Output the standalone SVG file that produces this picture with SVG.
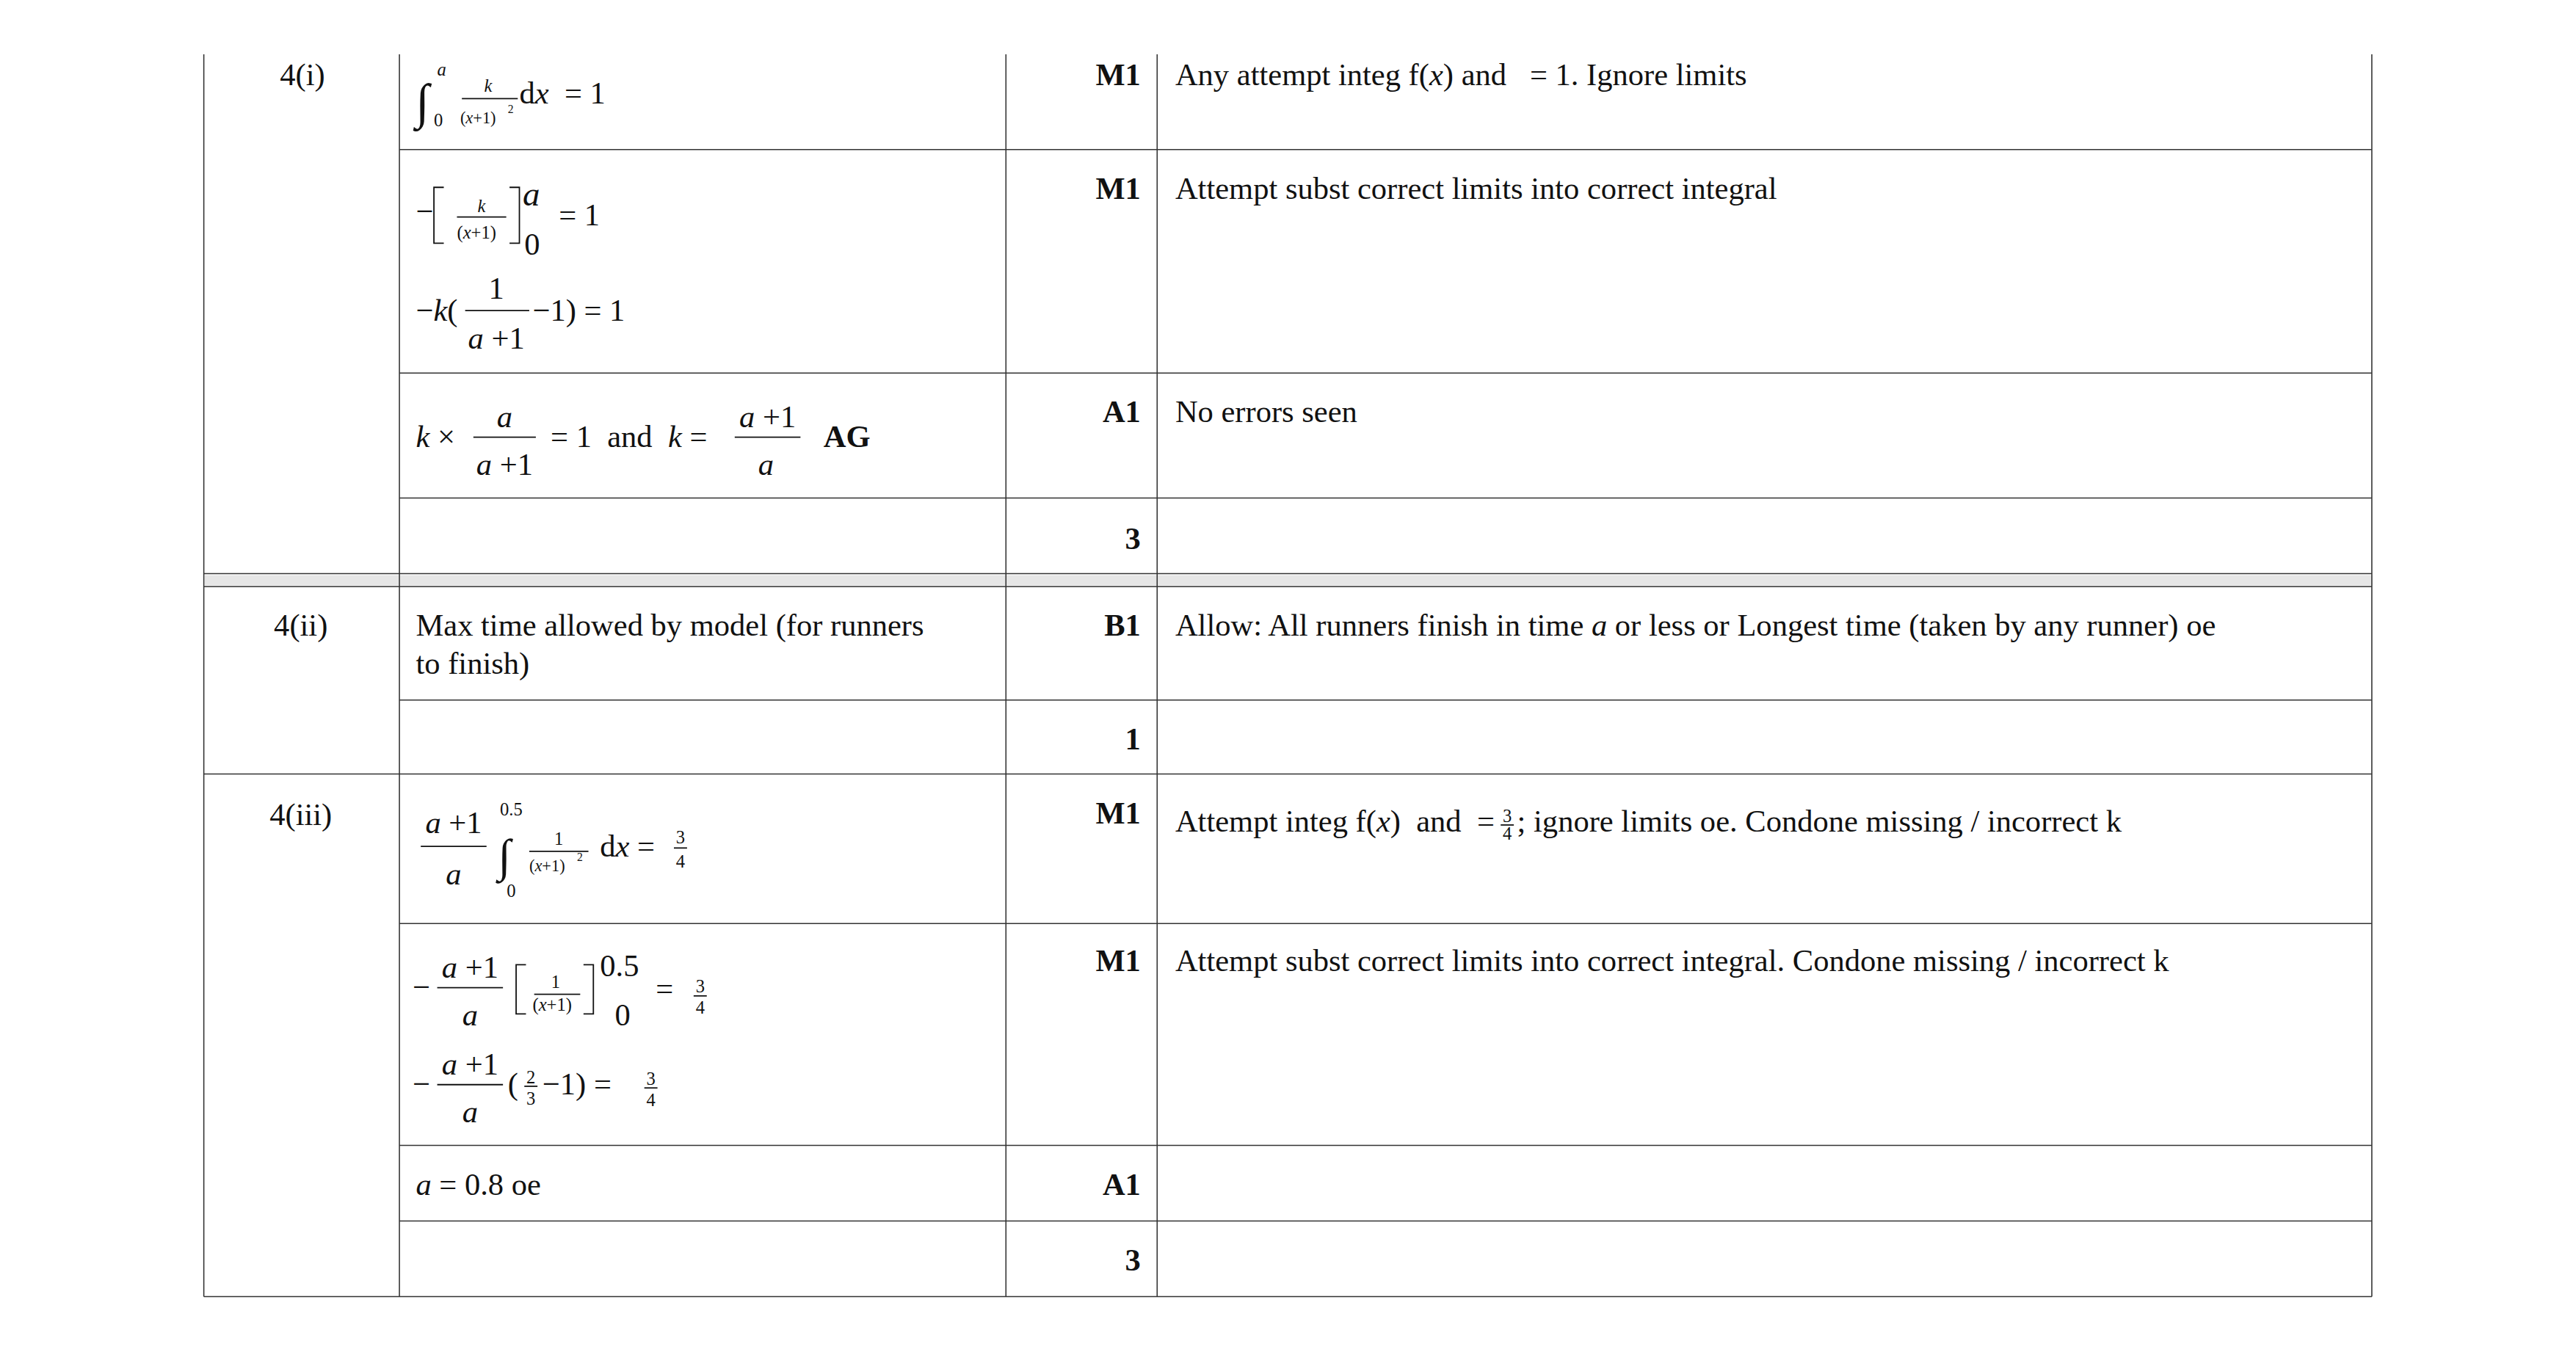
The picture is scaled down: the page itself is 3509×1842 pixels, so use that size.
<svg xmlns="http://www.w3.org/2000/svg" width="3509" height="1842" viewBox="0 0 3509 1842">
<style>
text{font-family:"Liberation Serif","Times New Roman",serif;font-size:19px;fill:#111;white-space:pre}
.b{font-weight:bold}
.i{font-style:italic}
.r{text-anchor:end}
.c{text-anchor:middle}
.s{font-size:11px}
.xs{font-size:7px}
.g line,.g path{stroke:#333;stroke-width:0.7;fill:none}
.f{stroke:#111;stroke-width:0.8}
</style>
<rect width="3509" height="1842" fill="#fff"/>
<g transform="scale(2.239)">
<g id="grid" class="g">
<rect x="124.5" y="350" width="1319" height="6.5" fill="#e6e6e6" stroke="none"/>
<line x1="124" y1="33" x2="124" y2="789"/>
<line x1="243" y1="33" x2="243" y2="789"/>
<line x1="612" y1="33" x2="612" y2="789"/>
<line x1="704" y1="33" x2="704" y2="789"/>
<line x1="1443" y1="33" x2="1443" y2="789"/>
<line x1="243" y1="91" x2="1443" y2="91"/>
<line x1="243" y1="227" x2="1443" y2="227"/>
<line x1="243" y1="303" x2="1443" y2="303"/>
<line x1="124" y1="349" x2="1443" y2="349"/>
<line x1="124" y1="357" x2="1443" y2="357"/>
<line x1="243" y1="426" x2="1443" y2="426"/>
<line x1="124" y1="471" x2="1443" y2="471"/>
<line x1="243" y1="562" x2="1443" y2="562"/>
<line x1="243" y1="697" x2="1443" y2="697"/>
<line x1="243" y1="743" x2="1443" y2="743"/>
<line x1="124" y1="789" x2="1443" y2="789"/>
</g>
<g id="q4i">
<text x="184" y="52" class="c">4(i)</text>
<text x="694" y="52" class="b r">M1</text>
<text x="715" y="52">Any attempt integ f(<tspan class="i">x</tspan>) and   = 1. Ignore limits</text>
<text x="253" y="72" style="font-size:30px">∫</text>
<text x="266" y="46" class="s i">a</text>
<text x="264" y="77" class="s">0</text>
<text x="297" y="56" class="s i c">k</text>
<line x1="281" y1="60" x2="315" y2="60" class="f"/>
<text x="280" y="75" style="font-size:10px">(<tspan class="i">x</tspan>+1)</text>
<text x="309" y="69" class="xs">2</text>
<text x="316" y="63">d<tspan class="i">x</tspan>  = 1</text>

<text x="694" y="121" class="b r">M1</text>
<text x="715" y="121">Attempt subst correct limits into correct integral</text>
<text x="253" y="135">−</text>
<path d="M270 114 H264 V148 H270 M310 114 H316 V148 H310" class="f" fill="none"/>
<text x="293" y="129" class="s i c">k</text>
<line x1="278" y1="132" x2="308" y2="132" class="f"/>
<text x="278" y="145" class="s">(<tspan class="i">x</tspan>+1)</text>
<text x="318" y="125" class="i" style="font-size:21px">a</text>
<text x="319" y="155">0</text>
<text x="340" y="137">= 1</text>
<text x="253" y="195">−<tspan class="i">k</tspan>(</text>
<text x="302" y="182" class="c">1</text>
<line x1="283" y1="189" x2="322" y2="189" class="f"/>
<text x="302" y="212" class="c"><tspan class="i">a</tspan> +1</text>
<text x="324" y="195">−1) = 1</text>

<text x="694" y="257" class="b r">A1</text>
<text x="715" y="257">No errors seen</text>
<text x="253" y="272"><tspan class="i">k</tspan> ×</text>
<text x="307" y="260" class="i c">a</text>
<line x1="288" y1="266" x2="326" y2="266" class="f"/>
<text x="307" y="289" class="c"><tspan class="i">a</tspan> +1</text>
<text x="335" y="272">= 1  and  <tspan class="i">k</tspan> =</text>
<text x="467" y="260" class="c"><tspan class="i">a</tspan> +1</text>
<line x1="447" y1="266" x2="487" y2="266" class="f"/>
<text x="466" y="289" class="i c">a</text>
<text x="501" y="272" class="b">AG</text>

<text x="694" y="334" class="b r">3</text>
</g>
<g id="q4ii">
<text x="183" y="387" class="c">4(ii)</text>
<text x="694" y="387" class="b r">B1</text>
<text x="253" y="387">Max time allowed by model (for runners</text>
<text x="253" y="410">to finish)</text>
<text x="715" y="387">Allow: All runners finish in time <tspan class="i">a</tspan> or less or Longest time (taken by any runner) oe</text>
<text x="694" y="456" class="b r">1</text>
</g>
<g id="q4iii">
<text x="183" y="502" class="c">4(iii)</text>
<text x="694" y="501" class="b r">M1</text>
<text x="715" y="506">Attempt integ f(<tspan class="i">x</tspan>)  and  =</text>
<text x="917" y="500" class="s c">3</text>
<line x1="913" y1="502" x2="921" y2="502" class="f"/>
<text x="917" y="511" class="s c">4</text>
<text x="923" y="506">; ignore limits oe. Condone missing / incorrect k</text>
<text x="276" y="507" class="c"><tspan class="i">a</tspan> +1</text>
<line x1="256" y1="515" x2="296" y2="515" class="f"/>
<text x="276" y="538" class="i c">a</text>
<text x="311" y="496" class="s c">0.5</text>
<text x="303" y="530" style="font-size:28px">∫</text>
<text x="311" y="546" class="s c">0</text>
<text x="340" y="514" class="s c">1</text>
<line x1="322" y1="518" x2="358" y2="518" class="f"/>
<text x="322" y="530" style="font-size:10px">(<tspan class="i">x</tspan>+1)</text>
<text x="351" y="524" class="xs">2</text>
<text x="365" y="521">d<tspan class="i">x</tspan> =</text>
<text x="414" y="513" class="s c">3</text>
<line x1="410" y1="516" x2="418" y2="516" class="f"/>
<text x="414" y="528" class="s c">4</text>

<text x="694" y="591" class="b r">M1</text>
<text x="715" y="591">Attempt subst correct limits into correct integral. Condone missing / incorrect k</text>
<text x="251" y="607">−</text>
<text x="286" y="595" class="c"><tspan class="i">a</tspan> +1</text>
<line x1="266" y1="601" x2="306" y2="601" class="f"/>
<text x="286" y="624" class="i c">a</text>
<path d="M320 587 H314 V617 H320 M355 587 H361 V617 H355" class="f" fill="none"/>
<text x="338" y="601" class="s c">1</text>
<line x1="325" y1="605" x2="353" y2="605" class="f"/>
<text x="324" y="615" class="s">(<tspan class="i">x</tspan>+1)</text>
<text x="365" y="594">0.5</text>
<text x="374" y="624">0</text>
<text x="399" y="608">=</text>
<text x="426" y="604" class="s c">3</text>
<line x1="422" y1="606" x2="430" y2="606" class="f"/>
<text x="426" y="617" class="s c">4</text>
<text x="251" y="666">−</text>
<text x="286" y="654" class="c"><tspan class="i">a</tspan> +1</text>
<line x1="266" y1="660" x2="306" y2="660" class="f"/>
<text x="286" y="683" class="i c">a</text>
<text x="309" y="666">(</text>
<text x="323" y="659" class="s c">2</text>
<line x1="319" y1="661" x2="327" y2="661" class="f"/>
<text x="323" y="672" class="s c">3</text>
<text x="330" y="666">−1) =</text>
<text x="396" y="660" class="s c">3</text>
<line x1="392" y1="662" x2="400" y2="662" class="f"/>
<text x="396" y="673" class="s c">4</text>

<text x="253" y="727"><tspan class="i">a</tspan> = 0.8 oe</text>
<text x="694" y="727" class="b r">A1</text>
<text x="694" y="773" class="b r">3</text>
</g>
</g>
</svg>
